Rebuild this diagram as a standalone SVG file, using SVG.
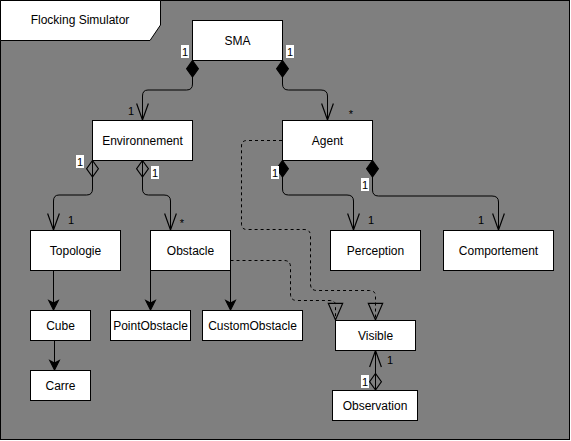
<svg xmlns="http://www.w3.org/2000/svg" width="571" height="441" viewBox="0 0 571 441">
<style>
.node rect{fill:#fff;stroke:#000;stroke-width:1}
.node text{font-family:"Liberation Sans",Arial,sans-serif;font-size:12px;fill:#000;text-anchor:middle;dominant-baseline:central}
.edge{fill:none;stroke:#000;stroke-width:1}
.dash{stroke-dasharray:3,3}
.lbl{font-family:"Liberation Sans",Arial,sans-serif;font-size:11px;fill:#000}
.lbg{fill:#fff;stroke:none}
</style>
<defs>
<marker id="dmF" markerUnits="userSpaceOnUse" markerWidth="20" markerHeight="20" viewBox="-1 -7 17 14" refX="0" refY="0" orient="auto">
<path d="M0,0 L7,-5 L14,0 L7,5 Z" fill="#000" stroke="#000"/>
</marker>
<marker id="dmO" markerUnits="userSpaceOnUse" markerWidth="20" markerHeight="20" viewBox="-1 -7 17 14" refX="0" refY="0" orient="auto">
<path d="M0,0 L7,-5 L14,0 L7,5 Z" fill="none" stroke="#000"/>
</marker>
<marker id="arO" markerUnits="userSpaceOnUse" markerWidth="20" markerHeight="20" viewBox="-16 -7 17 14" refX="0" refY="0" orient="auto">
<path d="M-14,-5 L0,0 L-14,5" fill="none" stroke="#000"/>
</marker>
<marker id="arF" markerUnits="userSpaceOnUse" markerWidth="14" markerHeight="14" viewBox="-9 -6 10 12" refX="0" refY="0" orient="auto">
<path d="M-8,-4 L0,0 L-8,4 L-6,0 Z" fill="#000" stroke="#000"/>
</marker>
<marker id="tri" markerUnits="userSpaceOnUse" markerWidth="20" markerHeight="20" viewBox="-17 -8 18 16" refX="0" refY="0" orient="auto">
<path d="M-15,-6.5 L0,0 L-15,6.5 Z" fill="none" stroke="#000"/>
</marker>
</defs>
<rect x="0.5" y="0.5" width="569" height="439" fill="#7f7f7f" stroke="#000"/>
<g id="title">
<polygon points="0.5,0.5 160.5,0.5 160.5,25 150,40.5 0.5,40.5" fill="#fff" stroke="#000"/>
<text x="80" y="20" font-family="Liberation Sans,Arial,sans-serif" font-size="12" text-anchor="middle" dominant-baseline="central">Flocking Simulator</text>
</g>
<g id="connectors">
<path class="edge" marker-start="url(#dmF)" marker-end="url(#arO)" d="M192.5,60.5 V84 Q192.5,90 186.5,90 H148 Q142.5,90 142.5,96 V120"/>
<path class="edge" marker-start="url(#dmF)" marker-end="url(#arO)" d="M282.5,60.5 V84 Q282.5,90 288.5,90 H321 Q327.5,90 327.5,96 V120"/>
<path class="edge" marker-start="url(#dmO)" marker-end="url(#arO)" d="M92.5,160.5 V189 Q92.5,195 86.5,195 H59 Q53.5,195 53.5,201 V230"/>
<path class="edge" marker-start="url(#dmO)" marker-end="url(#arO)" d="M142.5,160.5 V189 Q142.5,195 148.5,195 H164 Q170.5,195 170.5,201 V230"/>
<path class="edge" marker-start="url(#dmF)" marker-end="url(#arO)" d="M282.5,160.5 V189 Q282.5,195 288.5,195 H347 Q353.5,195 353.5,201 V230"/>
<path class="edge" marker-start="url(#dmF)" marker-end="url(#arO)" d="M372.5,160.5 V190 Q372.5,196 378.5,196 H492 Q498.5,196 498.5,202 V230"/>
<path class="edge" marker-end="url(#arF)" d="M53.5,270.5 V310"/>
<path class="edge" marker-end="url(#arF)" d="M54.5,340.5 V370"/>
<path class="edge" marker-end="url(#arF)" d="M150.5,270.5 V310"/>
<path class="edge" marker-end="url(#arF)" d="M230.5,270.5 V310"/>
<path class="edge dash" marker-end="url(#tri)" d="M230.5,260.5 H284 Q290.5,260.5 290.5,267 V294 Q290.5,300.5 297,300.5 H329 Q335.5,300.5 335.5,305 V320"/>
<path class="edge dash" marker-end="url(#tri)" d="M282,140.5 H247 Q241.5,140.5 241.5,146 V224 Q241.5,229.5 247,229.5 H304 Q310.5,229.5 310.5,236 V284 Q310.5,290.5 317,290.5 H369 Q375.5,290.5 375.5,296 V320"/>
<path class="edge" marker-start="url(#dmO)" marker-end="url(#arO)" d="M375.5,390 V350.5"/>
</g>
<g id="labels">
<rect class="lbg" x="181" y="45" width="8" height="13"/><text class="lbl" x="185" y="56" text-anchor="middle">1</text>
<rect class="lbg" x="286" y="45" width="8" height="13"/><text class="lbl" x="290" y="56" text-anchor="middle">1</text>
<text class="lbl" x="131" y="115" text-anchor="middle">1</text>
<text class="lbl" x="351" y="118" text-anchor="middle">*</text>
<rect class="lbg" x="76" y="155" width="8" height="13"/><text class="lbl" x="80" y="166" text-anchor="middle">1</text>
<rect class="lbg" x="151" y="166" width="8" height="13"/><text class="lbl" x="155" y="177" text-anchor="middle">1</text>
<text class="lbl" x="71" y="224" text-anchor="middle">1</text>
<text class="lbl" x="182" y="227" text-anchor="middle">*</text>
<rect class="lbg" x="271" y="166" width="8" height="13"/><text class="lbl" x="275" y="177" text-anchor="middle">1</text>
<rect class="lbg" x="361" y="178" width="8" height="13"/><text class="lbl" x="365" y="189" text-anchor="middle">1</text>
<text class="lbl" x="371" y="224" text-anchor="middle">1</text>
<text class="lbl" x="481" y="224" text-anchor="middle">1</text>
<text class="lbl" x="390" y="364" text-anchor="middle">1</text>
<rect class="lbg" x="361" y="375" width="8" height="13"/><text class="lbl" x="365" y="386" text-anchor="middle">1</text>
</g>
<g id="SMA" class="node"><rect x="192.5" y="20.5" width="90" height="40"/><text x="237.5" y="40.5">SMA</text></g>
<g id="Environnement" class="node"><rect x="92.5" y="120.5" width="100" height="40"/><text x="142.5" y="140.5">Environnement</text></g>
<g id="Agent" class="node"><rect x="282.5" y="120.5" width="90" height="40"/><text x="327.5" y="140.5">Agent</text></g>
<g id="Topologie" class="node"><rect x="30.5" y="230.5" width="90" height="40"/><text x="75.5" y="250.5">Topologie</text></g>
<g id="Obstacle" class="node"><rect x="150.5" y="230.5" width="80" height="40"/><text x="190.5" y="250.5">Obstacle</text></g>
<g id="Perception" class="node"><rect x="330.5" y="230.5" width="90" height="40"/><text x="375.5" y="250.5">Perception</text></g>
<g id="Comportement" class="node"><rect x="443.5" y="230.5" width="110" height="40"/><text x="498.5" y="250.5">Comportement</text></g>
<g id="Cube" class="node"><rect x="30.5" y="310.5" width="60" height="30"/><text x="60.5" y="325.5">Cube</text></g>
<g id="Carre" class="node"><rect x="30.5" y="370.5" width="60" height="30"/><text x="60.5" y="385.5">Carre</text></g>
<g id="PointObstacle" class="node"><rect x="110.5" y="310.5" width="80" height="30"/><text x="150.5" y="325.5">PointObstacle</text></g>
<g id="CustomObstacle" class="node"><rect x="202.5" y="310.5" width="100" height="30"/><text x="252.5" y="325.5">CustomObstacle</text></g>
<g id="Visible" class="node"><rect x="335.5" y="320.5" width="80" height="30"/><text x="375.5" y="335.5">Visible</text></g>
<g id="Observation" class="node"><rect x="332.5" y="390.5" width="85" height="30"/><text x="375" y="405.5">Observation</text></g>
</svg>
